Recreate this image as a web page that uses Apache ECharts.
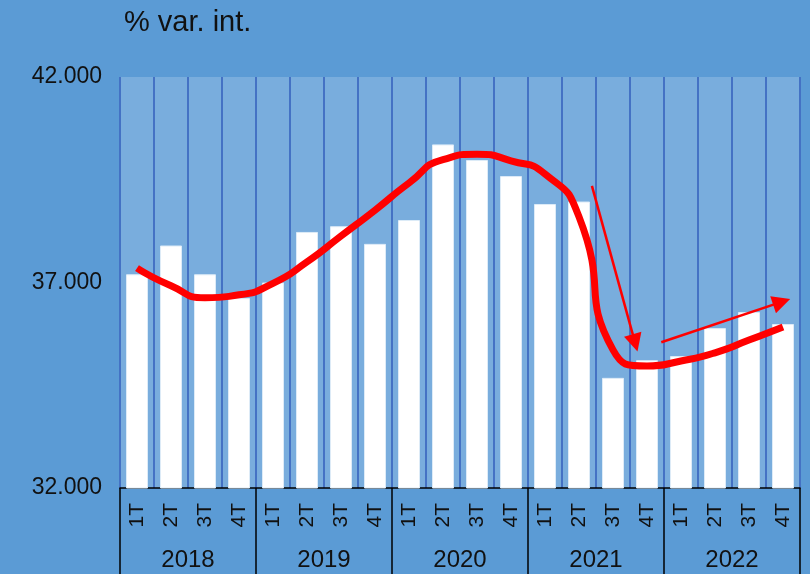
<!DOCTYPE html>
<html>
<head>
<meta charset="utf-8">
<script src="https://cdn.jsdelivr.net/npm/echarts@6/dist/echarts.min.js"></script>
<style>
  html, body { margin: 0; padding: 0; background: #5B9BD5; }
  #chart { width: 810px; height: 574px; }
</style>
</head>
<body>
<div id="chart"></div>
<script>
// datos
var quarters = ['1T','2T','3T','4T','1T','2T','3T','4T','1T','2T','3T','4T','1T','2T','3T','4T','1T','2T','3T','4T'];
var years = ['2018','2019','2020','2021','2022'];
var barValues = [37200, 37900, 37200, 36620, 37000, 38230, 38370, 37940, 38520, 40360,
                 39980, 39590, 38910, 38970, 34680, 35110, 35210, 35890, 36280, 35990];
var trendValues = [37350, 36920, 36630, 36700, 36980, 37500, 38130, 38760, 39420, 39990,
                   40120, 39960, 39640, 38600, 35360, 34970, 35090, 35290, 35600, 35920];
// flechas: [indice, valor] inicio -> fin
var arrows = [
  [[13.38, 39350], [14.65, 35530]],
  [[15.42, 35545], [18.96, 36530]]
];

var font = '"Liberation Sans", Arial, sans-serif';
var chart = echarts.init(document.getElementById('chart'));

var option = {
  backgroundColor: '#5B9BD5',
  animation: false,
  title: {
    text: '% var. int.',
    left: 119,
    top: 3,
    textStyle: { color: '#111', fontSize: 29, fontWeight: 'normal', fontFamily: font }
  },
  grid: {
    left: 120, right: 10, top: 77, bottom: 86,
    show: true,
    backgroundColor: '#79ADDD',
    borderWidth: 0
  },
  xAxis: [
    {
      type: 'category',
      data: quarters,
      position: 'bottom',
      axisLine: { lineStyle: { color: '#000', width: 1.5 } },
      axisTick: { show: false },
      splitLine: { show: true, lineStyle: { color: '#4472C4', width: 2 } },
      axisLabel: {
        rotate: 90, interval: 0, margin: 15,
        color: '#111', fontSize: 21, fontFamily: font
      }
    },
    {
      type: 'category',
      data: years,
      position: 'bottom',
      axisLine: { show: false },
      axisTick: { show: true, interval: 0, length: 90, lineStyle: { color: '#000', width: 1.5 } },
      axisLabel: { interval: 0, margin: 60, color: '#111', fontSize: 24, fontFamily: font }
    },
    {
      type: 'value',
      min: -0.5, max: 19.5,
      show: false
    }
  ],
  yAxis: {
    type: 'value',
    min: 32000, max: 42000, interval: 5000,
    axisLine: { show: false },
    axisTick: { show: false },
    splitLine: { show: false },
    axisLabel: {
      margin: 18, color: '#111', fontSize: 23, fontFamily: font,
      formatter: function (v) { return (v / 1000).toFixed(3); }
    }
  },
  series: [
    {
      type: 'bar',
      data: barValues,
      barWidth: 22,
      itemStyle: { color: '#FFFFFF', borderColor: '#DDEBF7', borderWidth: 1 }
    },
    {
      type: 'line',
      data: trendValues,
      smooth: 0.6,
      showSymbol: false,
      lineStyle: { color: '#FF0000', width: 7 },
      z: 5
    },
    {
      type: 'lines',
      coordinateSystem: 'cartesian2d',
      xAxisIndex: 2,
      yAxisIndex: 0,
      symbol: ['none', 'triangle'],
      symbolSize: [14, 18],
      lineStyle: { color: '#FF0000', width: 2.5, opacity: 1, curveness: 0 },
      data: arrows.map(function (a) { return { coords: a }; }),
      z: 6
    }
  ]
};
chart.setOption(option);
</script>
</body>
</html>
